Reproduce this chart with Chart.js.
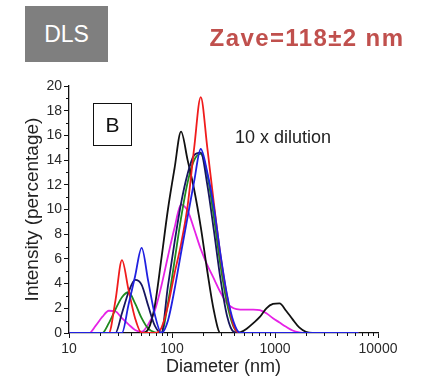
<!DOCTYPE html>
<html>
<head>
<meta charset="utf-8">
<script src="https://cdn.jsdelivr.net/npm/chart.js@4.4.1/dist/chart.umd.min.js"></script>
<style>
    body { margin: 0; background: #fff; font-family: 'Liberation Sans', Arial, sans-serif; }
    #wrap { position: absolute; left: 0; top: 0; width: 424px; height: 389px; }
    .lbl { position: absolute; white-space: nowrap; line-height: 1; }
    .center { transform: translate(-50%, -50%); }
    #dls {
        position: absolute; left: 25px; top: 6px; width: 83px; height: 56px;
        background: #7f7f7f; color: #fff; font-size: 23px;
        display: flex; align-items: center; justify-content: center;
    }
    #zave { left: 307px; top: 38px; color: #c0504d; font-weight: bold; font-size: 24px; letter-spacing: 1.4px; }
    #boxB {
        position: absolute; left: 93px; top: 103px; width: 37px; height: 41px;
        border: 1.5px solid #111; font-size: 21px; color: #111;
        display: flex; align-items: center; justify-content: center;
    }
    #dil { left: 283px; top: 137px; font-size: 18px; color: #222; }
</style>
</head>
<body>
<div id="wrap"><canvas id="dlsChart"></canvas></div>
<div id="dls">DLS</div>
<div id="zave" class="lbl center">Zave=118±2 nm</div>
<div id="boxB">B</div>
<div id="dil" class="lbl center">10 x dilution</div>
<script>
// Size bins (nm), log spaced
const sizes = [10.10, 11.70, 13.54, 15.69, 18.17, 21.04, 24.36, 28.21, 32.67, 37.84,
    43.82, 50.75, 58.77, 68.06, 78.82, 91.28, 105.7, 122.4, 141.8, 164.2,
    190.1, 220.2, 255.0, 295.3, 342.0, 396.1, 458.7, 531.2, 615.1, 712.4,
    825.0, 955.4, 1106, 1281, 1484, 1718, 1990, 2305, 2669, 3091,
    3580, 4145, 4801, 5560, 6439];

// Intensity (%) per run
const redRun = [0, 0, 0, 0, 0, 0, 0, 2.6, 5.9, 3.5,
    1.2, 0, 0, 0, 0.4, 2.2, 4.8, 7.2, 10.3, 15.0,
    19.1, 15.0, 10.5, 6.3, 3.0, 0.6, 0, 0, 0, 0,
    0, 0, 0, 0, 0, 0, 0, 0, 0, 0,
    0, 0, 0, 0, 0];
const greenRun = [0, 0, 0, 0, 0, 0, 0.8, 1.9, 2.9, 3.3,
    2.4, 1.2, 0.35, 0.05, 0, 2.4, 5.8, 9.3, 12.2, 14.0,
    14.5, 12.8, 9.4, 5.5, 2.4, 0.5, 0, 0, 0, 0,
    0, 0, 0, 0, 0, 0, 0, 0, 0, 0,
    0, 0, 0, 0, 0];
const navyRun = [0, 0, 0, 0, 0, 0, 0, 0, 1.6, 3.3,
    4.3, 3.9, 2.2, 0.6, 0, 3.8, 7.3, 10.5, 12.9, 14.4,
    14.6, 12.0, 8.3, 4.4, 1.4, 0.1, 0, 0, 0, 0,
    0, 0, 0, 0, 0, 0, 0, 0, 0, 0,
    0, 0, 0, 0, 0];
const blueRun = [0, 0, 0, 0, 0, 0, 0, 0, 0, 2.3,
    4.6, 6.9, 4.2, 1.5, 0, 1.0, 3.5, 6.5, 9.4, 12.3,
    14.9, 13.0, 10.2, 6.4, 3.1, 0.9, 0, 0, 0, 0,
    0, 0, 0, 0, 0, 0, 0, 0, 0, 0,
    0, 0, 0, 0, 0];
const blackRun = [0, 0, 0, 0, 0, 0, 0, 0, 0, 0,
    0, 0, 0.3, 2.2, 6.0, 10.0, 13.3, 16.3, 14.0, 11.6,
    8.6, 5.0, 1.8, 0, 0, 0, 0.05, 0.35, 0.8, 1.3,
    2.0, 2.35, 2.4, 1.8, 1.1, 0.45, 0.1, 0, 0, 0,
    0, 0, 0, 0, 0];
const magentaRun = [0, 0, 0, 0, 0.6, 1.3, 1.8, 1.75, 1.2, 0.7,
    0.25, 0.1, 0.7, 1.8, 3.8, 6.2, 8.5, 10.4, 9.9, 8.4,
    6.8, 5.5, 4.4, 3.3, 2.4, 2.0, 1.9, 1.9, 1.9, 1.85,
    1.6, 1.2, 0.85, 0.5, 0.2, 0.05, 0, 0, 0, 0,
    0, 0, 0, 0, 0];

// Axis ticks
const xMajorTicks = [10, 100, 1000, 10000];
const yTickStep = 2;

const runs = [
    { data: blueRun, color: '#2020e0' },
    { data: redRun, color: '#f01c1c' },
    { data: navyRun, color: '#16165e' },
    { data: blackRun, color: '#111111' },
    { data: greenRun, color: '#1e8a1e' },
    { data: magentaRun, color: '#e622e6' }
];

const FONT = "'Liberation Sans', Arial, sans-serif";

// Minor tick marks on both axes
const minorTicks = {
    id: 'minorTicks',
    afterDraw(chart) {
        const ctx = chart.ctx;
        const x = chart.scales.x;
        const y = chart.scales.y;
        const area = chart.chartArea;
        ctx.save();
        ctx.strokeStyle = '#111';
        ctx.lineWidth = 1;
        ctx.beginPath();
        [10, 100, 1000].forEach(d => {
            for (let m = 2; m <= 9; m++) {
                const px = Math.round(x.getPixelForValue(m * d)) + 0.5;
                ctx.moveTo(px, area.bottom);
                ctx.lineTo(px, area.bottom + 3);
            }
        });
        for (let v = 1; v < 20; v += 2) {
            const py = Math.round(y.getPixelForValue(v)) + 0.5;
            ctx.moveTo(area.left - 3, py);
            ctx.lineTo(area.left, py);
        }
        ctx.stroke();
        ctx.restore();
    }
};

const ctx = document.getElementById('dlsChart').getContext('2d');
new Chart(ctx, {
    type: 'line',
    data: {
        labels: sizes,
        datasets: runs.map(r => ({
            data: r.data.map((v, i) => ({ x: sizes[i], y: v })),
            borderColor: r.color,
            borderWidth: 1.8,
            pointRadius: 0,
            fill: false,
            cubicInterpolationMode: 'monotone'
        }))
    },
    options: {
        responsive: true,
        maintainAspectRatio: false,
        animation: false,
        layout: { padding: { top: 86, right: 46, left: 0, bottom: 0 } },
        plugins: {
            legend: { display: false },
            tooltip: { enabled: false }
        },
        scales: {
            x: {
                type: 'logarithmic',
                min: 10,
                max: 10000,
                afterBuildTicks: scale => {
                    scale.ticks = xMajorTicks.map(v => ({ value: v }));
                },
                afterFit: scale => { scale.height = 56; },
                ticks: {
                    color: '#2a2a2a',
                    font: { family: FONT, size: 14 },
                    padding: 3,
                    maxRotation: 0,
                    callback: v => String(v)
                },
                grid: { drawOnChartArea: false, drawTicks: true, tickLength: 5, tickColor: '#111' },
                border: { display: true, color: '#111', width: 1.3 },
                title: {
                    display: true,
                    text: 'Diameter (nm)',
                    color: '#222',
                    font: { family: FONT, size: 18 },
                    padding: { top: 0, bottom: 11 }
                }
            },
            y: {
                min: 0,
                max: 20,
                afterFit: scale => { scale.width = 69; },
                ticks: {
                    stepSize: yTickStep,
                    color: '#2a2a2a',
                    font: { family: FONT, size: 14 },
                    padding: 2
                },
                grid: { drawOnChartArea: false, drawTicks: true, tickLength: 5, tickColor: '#111' },
                border: { display: true, color: '#111', width: 1.3 },
                title: {
                    display: true,
                    text: 'Intensity (percentage)',
                    color: '#222',
                    font: { family: FONT, size: 19 },
                    padding: { top: 21, bottom: 0 }
                }
            }
        }
    },
    plugins: [minorTicks]
});
</script>
</body>
</html>
